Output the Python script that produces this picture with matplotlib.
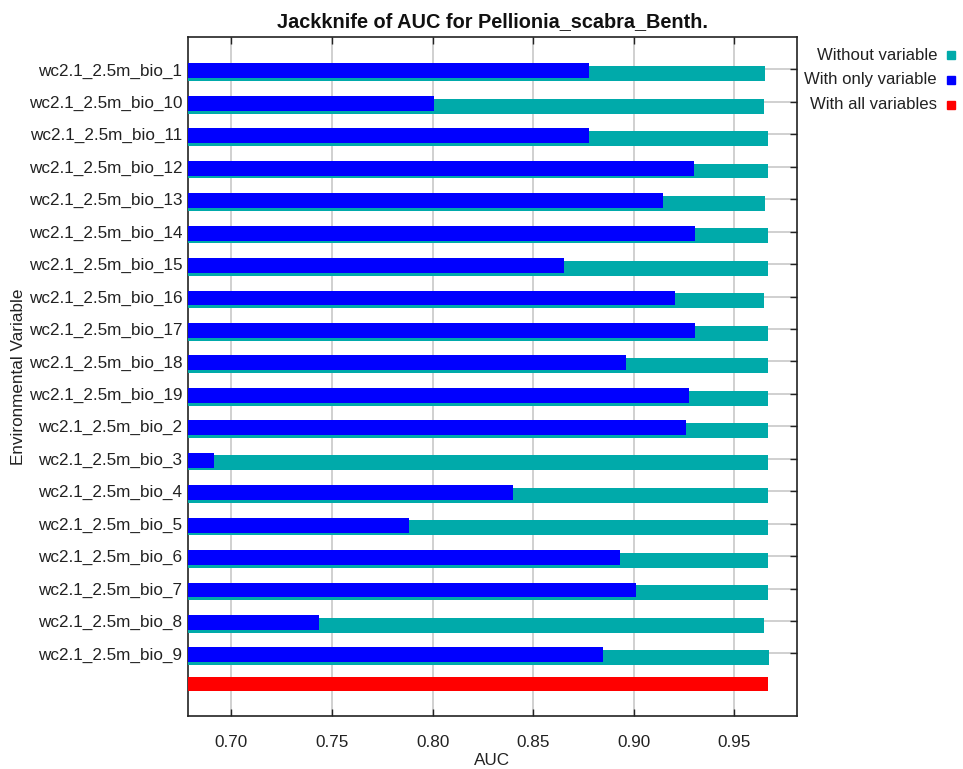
import matplotlib
matplotlib.use("Agg")
import matplotlib.pyplot as plt
import numpy as np

plt.rcParams['font.family'] = ['Liberation Sans', 'DejaVu Sans']

variables = ["wc2.1_2.5m_bio_1", "wc2.1_2.5m_bio_10", "wc2.1_2.5m_bio_11",
             "wc2.1_2.5m_bio_12", "wc2.1_2.5m_bio_13", "wc2.1_2.5m_bio_14",
             "wc2.1_2.5m_bio_15", "wc2.1_2.5m_bio_16", "wc2.1_2.5m_bio_17",
             "wc2.1_2.5m_bio_18", "wc2.1_2.5m_bio_19", "wc2.1_2.5m_bio_2",
             "wc2.1_2.5m_bio_3", "wc2.1_2.5m_bio_4", "wc2.1_2.5m_bio_5",
             "wc2.1_2.5m_bio_6", "wc2.1_2.5m_bio_7", "wc2.1_2.5m_bio_8",
             "wc2.1_2.5m_bio_9"]
without_variable = [0.9651, 0.9647, 0.9668, 0.9668, 0.9653, 0.9668, 0.9668,
                    0.9647, 0.9668, 0.9668, 0.9668, 0.9668, 0.9668, 0.9668,
                    0.9668, 0.9668, 0.9668, 0.9647, 0.9675]
with_only_variable = [0.8778, 0.8006, 0.8778, 0.9300, 0.9146, 0.9305, 0.8653,
                      0.9203, 0.9305, 0.8962, 0.9275, 0.9260, 0.6913, 0.8400,
                      0.7882, 0.8932, 0.9012, 0.7434, 0.8847]
with_all_variables = 0.9668
x_ticks = [0.70, 0.75, 0.80, 0.85, 0.90, 0.95]

TEAL = "#00AAAA"
BLUE = "#0000FF"
RED = "#FF0000"
TXT = "#222222"

fig = plt.figure(figsize=(9.63, 7.69), dpi=100)
ax = fig.add_axes([188/963, 1-716/769, (797-188)/963, (716-37)/769])

x0 = 0.6784
n = len(variables)
pos = np.arange(n)
ax.barh(pos + 0.13, np.array(without_variable) - x0, left=x0, height=0.46,
        color=TEAL, edgecolor="none", zorder=3)
ax.barh(pos + 0.046, np.array(with_only_variable) - x0, left=x0, height=0.46,
        color=BLUE, edgecolor="none", zorder=4)
ax.barh([n - 0.055], [with_all_variables - x0], left=x0, height=0.44,
        color=RED, edgecolor="none", zorder=4)

ax.set_xlim(x0, 0.9812)
ax.set_ylim(19.93, -1.0)
ax.set_xticks(x_ticks)
ax.set_xticklabels([f"{t:.2f}" for t in x_ticks])
ax.set_yticks(pos)
ax.set_yticklabels(variables)
ax.grid(True, color="#C8C8C8", linewidth=1.2, zorder=0)
ax.set_axisbelow(True)
ax.tick_params(axis="both", direction="in", length=5, width=1, colors=TXT,
               labelcolor=TXT, labelsize=12.3, top=True, right=True)
ax.tick_params(axis="x", pad=14)
ax.tick_params(axis="y", pad=4)
for s in ax.spines.values():
    s.set_color(TXT)
    s.set_linewidth(1.2)

ax.set_xlabel("AUC", fontsize=12.3, color=TXT, labelpad=2)
ax.set_ylabel("Environmental Variable", fontsize=12.3, color=TXT, labelpad=2)
ax.set_title("Jackknife of AUC for Pellionia_scabra_Benth.", fontsize=14.3,
             fontweight="bold", color="#111111", pad=7)

legend_items = [("Without variable", TEAL), ("With only variable", BLUE),
                ("With all variables", RED)]
for i, (lab, col) in enumerate(legend_items):
    y = 1 - (55 + 24.8 * i) / 769
    fig.text(937/963, y, lab, ha="right", va="center", fontsize=12.1, color=TXT)
    fig.patches.append(plt.Rectangle((947/963, y - 4/769), 8/963, 8/769,
                                     transform=fig.transFigure, color=col))

fig.savefig("out.png", dpi=100)
